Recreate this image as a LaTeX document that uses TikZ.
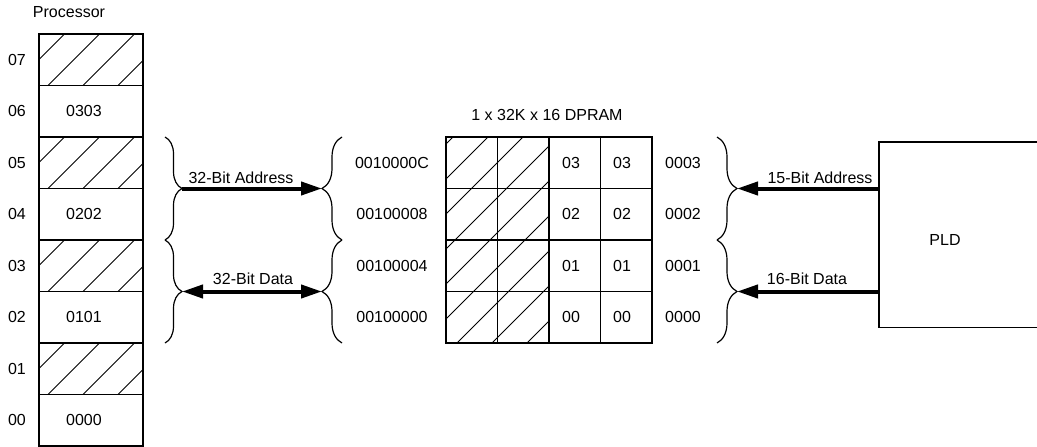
\documentclass[tikz,border=0pt]{standalone}
\usepackage{fontspec}
\setmainfont{Liberation Sans}
\usetikzlibrary{arrows.meta,decorations.pathreplacing}
\begin{document}
\begin{tikzpicture}[x=1pt,y=-1pt,
  every node/.style={font=\fontsize{16}{19}\selectfont, inner sep=0pt},
  cell/.style={draw, line width=1.3pt, minimum width=51.5pt, minimum height=51.5pt},
  pcell/.style={draw, line width=1.3pt, minimum width=104pt, minimum height=51.5pt},
  hatch/.style={line width=0.9pt},
  brc/.style={decorate, decoration={brace, amplitude=#1}, line width=1.2pt},
  brc/.default=18pt,
  bus/.style={line width=4pt, -{Triangle[length=21pt,width=13pt]}},
  bustwo/.style={line width=4pt, {Triangle[length=21pt,width=13pt]}-{Triangle[length=21pt,width=13pt]}}]
\useasboundingbox (0,0) rectangle (1037,447);

% ---------- Processor ----------
\node (proc) at (69,12) {Processor};
\foreach \i/\lab/\txt/\h in {0/07/x/1, 1/06/0303/0, 2/05/x/1, 3/04/0202/0, 4/03/x/1, 5/02/0101/0, 6/01/x/1, 7/00/0000/0} {
  \pgfmathsetmacro\T{34+51.5*\i}
  \pgfmathsetmacro\B{\T+51.5}
  \pgfmathsetmacro\M{\T+25.75}
  \ifnum\h=1
    \begin{scope}
      \clip (39,\T) rectangle (143,\B);
      \foreach \o in {13,48,83,118} \draw[hatch] (\o,\B) -- ++(51.5,-51.5);
    \end{scope}
  \else
    \node (pt\lab) at (84,\M) {\txt};
  \fi
  \node[pcell] (pr\lab) at (91,\M) {};
  \node (pl\lab) at (17,\M) {\lab};
}

% ---------- DPRAM ----------
\node (dtitle) at (547,115) {1 x 32K x 16 DPRAM};
\begin{scope}
  \clip (446,137) rectangle (549,343);
  \foreach \k in {0,...,8} {
    \pgfmathsetmacro\c{590+35*\k}
    \draw[hatch] (\c-343,343) -- (\c-137,137);
  }
\end{scope}
\foreach \r/\adr/\byte/\wrd in {0/0010000C/03/0003, 1/00100008/02/0002, 2/00100004/01/0001, 3/00100000/00/0000} {
  \pgfmathsetmacro\M{137+51.5*\r+25.75}
  \foreach \j in {0,1,2,3} {
    \pgfmathsetmacro\X{446+51.5*\j+25.75}
    \node[cell] (d\r\j) at (\X,\M) {};
  }
  \node (da\r) at (392,\M) {\adr};
  \node (db\r) at (571,\M) {\byte};
  \node (dc\r) at (622,\M) {\byte};
  \node (dw\r) at (683,\M) {\wrd};
}

% ---------- Braces ----------
\draw[brc=17pt] (165,137) -- (165,240);
\draw[brc=17pt] (165,240) -- (165,343);
\draw[brc=20pt] (342,240) -- (342,137);
\draw[brc=20pt] (342,343) -- (342,240);
\draw[brc=20pt] (717,137) -- (717,240);
\draw[brc=20pt] (717,240) -- (717,343);

\coordinate (lA) at (182,188.5);
\coordinate (lD) at (182,291.5);
\coordinate (mA) at (322,188.5);
\coordinate (mD) at (322,291.5);
\coordinate (rA) at (737,188.5);
\coordinate (rD) at (737,291.5);

% ---------- PLD ----------
\node[minimum width=170pt, minimum height=185pt, anchor=north west] (pld) at (879,142) {};
\draw[line width=1.3pt] (pld.north east) -- (pld.north west) -- (pld.south west) -- (pld.south east);
\node (pldlab) at (945,240) {PLD};

% ---------- Buses ----------
\draw[bus] (lA) -- (mA);
\draw[bustwo] (lD) -- (mD);
\draw[bus] (pld.west |- rA) -- (rA);
\draw[bus] (pld.west |- rD) -- (rD);

\node (la) at (241,178) {32-Bit Address};
\node (ld) at (253,279) {32-Bit Data};
\node (ra) at (820,178) {15-Bit Address};
\node (rd) at (807,279) {16-Bit Data};
\end{tikzpicture}
\end{document}
